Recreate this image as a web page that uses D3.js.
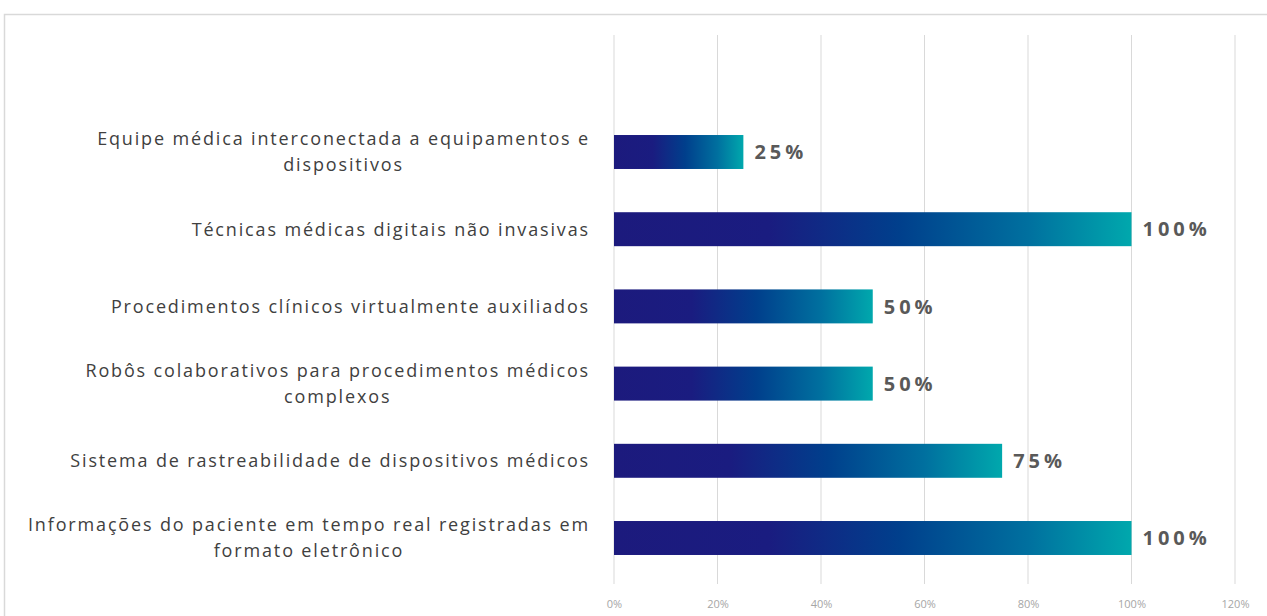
<!DOCTYPE html>
<html>
<head>
<meta charset="utf-8">
<script src="https://cdn.jsdelivr.net/npm/d3@7"></script>
<style>
  body { margin: 0; background: #fff; }
  svg { display: block; }
</style>
</head>
<body>
<div id="chart"></div>
<script>
const W = 1267, H = 616;

// data
const categories = [
  ["Equipe médica interconectada a equipamentos e", "dispositivos"],
  ["Técnicas médicas digitais não invasivas"],
  ["Procedimentos clínicos virtualmente auxiliados"],
  ["Robôs colaborativos para procedimentos médicos", "complexos"],
  ["Sistema de rastreabilidade de dispositivos médicos"],
  ["Informações do paciente em tempo real registradas em", "formato eletrônico"]
];
const values = [25, 100, 50, 50, 75, 100];
const tickValues = [0, 20, 40, 60, 80, 100, 120];

const svg = d3.select("#chart").append("svg")
  .attr("width", W).attr("height", H);

// frame of the chart area
svg.append("rect")
  .attr("x", 4.5).attr("y", 14.5)
  .attr("width", W + 10).attr("height", H + 10)
  .attr("fill", "none").attr("stroke", "#d9d9d9").attr("stroke-width", 1.5);

const x = d3.scaleLinear().domain([0, 120]).range([614, 1235]);
const y = d3.scaleBand()
  .domain(d3.range(categories.length))
  .range([113.4, 576.6])
  .paddingInner(0.56).paddingOuter(0.28);

// gridlines
svg.append("g").selectAll("line")
  .data(tickValues).join("line")
  .attr("x1", d => x(d)).attr("x2", d => x(d))
  .attr("y1", 35).attr("y2", 584)
  .attr("stroke", "#d9d9d9").attr("stroke-width", 1);

// x axis labels
const xAxis = d3.axisBottom(x).tickValues(tickValues).tickSize(0).tickFormat(d => d + "%");
svg.append("g").attr("transform", "translate(0,597)")
  .call(xAxis)
  .call(g => g.select(".domain").remove())
  .selectAll("text")
  .attr("font-family", "'Open Sans', sans-serif")
  .attr("font-size", 11).attr("fill", "#a6a6a6");

// gradient for bars (each bar uses its own bounding box)
const defs = svg.append("defs");
const grad = defs.append("linearGradient").attr("id", "barGrad")
  .attr("x1", "0").attr("x2", "1").attr("y1", "0").attr("y2", "0");
grad.append("stop").attr("offset", "0%").attr("stop-color", "#1c1a7d");
grad.append("stop").attr("offset", "30%").attr("stop-color", "#1a1c80");
grad.append("stop").attr("offset", "55%").attr("stop-color", "#003f8c");
grad.append("stop").attr("offset", "80%").attr("stop-color", "#00709f");
grad.append("stop").attr("offset", "100%").attr("stop-color", "#00a8ad");

// bars
svg.append("g").selectAll("rect")
  .data(values).join("rect")
  .attr("x", x(0))
  .attr("y", (d, i) => y(i))
  .attr("width", d => x(d) - x(0))
  .attr("height", y.bandwidth())
  .attr("fill", "url(#barGrad)");

// value labels
svg.append("g").selectAll("text")
  .data(values).join("text")
  .attr("x", d => x(d) + 11)
  .attr("y", (d, i) => y(i) + y.bandwidth() / 2)
  .attr("dy", "0.36em")
  .attr("font-family", "'Open Sans', sans-serif")
  .attr("font-size", 20).attr("font-weight", "bold")
  .attr("letter-spacing", 4)
  .attr("fill", "#595959")
  .text(d => d + "%");

// category labels, right aligned block, lines centred inside it
const labelRight = 590;
const lineH = 26;
const labels = svg.append("g").selectAll("text")
  .data(categories).join("text")
  .attr("font-family", "'Open Sans', sans-serif")
  .attr("font-size", 18).attr("fill", "#404040")
  .attr("letter-spacing", 1.85)
  .attr("text-anchor", "middle");

labels.each(function(lines, i) {
  const t = d3.select(this);
  const cy = y(i) + y.bandwidth() / 2;
  const top = cy - (lines.length - 1) * lineH / 2;
  lines.forEach((s, k) => {
    t.append("tspan").attr("y", top + k * lineH).attr("dy", "0.35em").text(s);
  });
  let maxW = 0;
  t.selectAll("tspan").each(function() { maxW = Math.max(maxW, this.getComputedTextLength()); });
  t.selectAll("tspan").attr("x", labelRight - maxW / 2);
});
</script>
</body>
</html>
